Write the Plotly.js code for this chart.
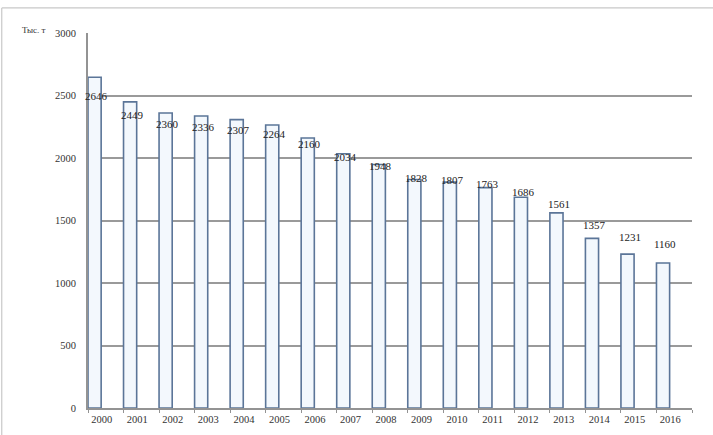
<!DOCTYPE html>
<html>
<head>
<meta charset="utf-8">
<script src="https://cdn.plot.ly/plotly-3.0.1.min.js"></script>
<style>html,body{margin:0;padding:0;background:#fff;}#chart{width:713px;height:435px;}</style>
</head>
<body>
<div id="chart"></div>
<script>
const years = ['2000','2001','2002','2003','2004','2005','2006','2007','2008','2009','2010','2011','2012','2013','2014','2015','2016'];
const values = [2646, 2449, 2360, 2336, 2307, 2264, 2160, 2034, 1948, 1828, 1807, 1763, 1686, 1561, 1357, 1231, 1160];
const yTicks = [0, 500, 1000, 1500, 2000, 2500, 3000];
const unitLabel = 'Тыс. т';

const serif = 'Liberation Serif, Times New Roman, serif';
const barWidth = 0.37;
const barOffset = -0.5;

const trace = {
  type: 'bar',
  x: years,
  y: values,
  width: barWidth,
  offset: barOffset,
  marker: {color: '#f3f8fd', line: {color: '#5b7598', width: 1.6}},
  hoverinfo: 'x+y'
};

// value labels (placed as in the source, near the bar tops)
const annotations = values.map((v, i) => ({
  x: i + barOffset + barWidth / 2 + 0.06,
  y: v * 0.8 + 381,
  xref: 'x', yref: 'y',
  text: String(v),
  showarrow: false,
  font: {family: serif, size: 11, color: '#222'},
  xanchor: 'center', yanchor: 'middle'
}));
annotations.push({
  xref: 'paper', yref: 'paper',
  x: -0.1126, y: 1.008,
  xanchor: 'left', yanchor: 'middle',
  text: unitLabel, showarrow: false,
  font: {family: serif, size: 9, color: '#333'}
});

const layout = {
  width: 713, height: 435,
  margin: {l: 88, r: 21, t: 33, b: 27},
  paper_bgcolor: '#fff', plot_bgcolor: '#fff',
  showlegend: false,
  bargap: 0,
  xaxis: {
    type: 'category',
    range: [-0.5, years.length - 0.5],
    showgrid: false,
    showline: true, linecolor: '#939393', linewidth: 2,
    ticks: 'outside', tickson: 'boundaries', ticklen: 3, tickcolor: '#939393',
    ticklabelshift: -4,
    tickfont: {family: serif, size: 10.5, color: '#333'},
    fixedrange: true
  },
  yaxis: {
    range: [0, 3000],
    tickvals: yTicks,
    ticktext: yTicks.map(String),
    showgrid: true, gridcolor: '#9a9a9a', gridwidth: 2,
    zeroline: false,
    showline: true, linecolor: '#939393', linewidth: 2,
    ticks: '', ticklabelstandoff: 8,
    tickfont: {family: serif, size: 10.5, color: '#333'},
    fixedrange: true
  },
  annotations: annotations,
  shapes: [
    {type: 'line', xref: 'paper', yref: 'paper', x0: -0.1428, x1: 1.05, y0: 1.067, y1: 1.067, line: {color: '#c8c8c8', width: 1.2}},
    {type: 'line', xref: 'paper', yref: 'paper', x0: -0.1428, x1: -0.1428, y0: 1.067, y1: -0.1, line: {color: '#c8c8c8', width: 1.2}}
  ]
};

Plotly.newPlot('chart', [trace], layout, {displayModeBar: false, staticPlot: true});
</script>
</body>
</html>
